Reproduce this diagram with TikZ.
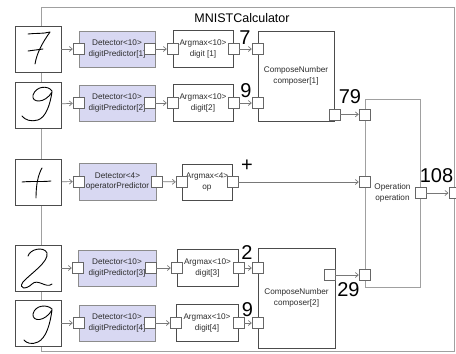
\documentclass[tikz,border=0pt]{standalone}
\usepackage{fontspec}
\setmainfont{Liberation Sans}
\usepackage{xcolor}
\usetikzlibrary{arrows.meta,positioning}
\definecolor{lavender}{RGB}{216,216,242}
\definecolor{wiregray}{RGB}{120,120,120}
\definecolor{framegray}{RGB}{160,160,160}
\definecolor{textgray}{RGB}{45,45,45}
\tikzstyle{box} = [rectangle, draw, inner sep=0pt, align=center, text=textgray, font=\fontsize{8.2}{10.5}\selectfont]
\tikzstyle{detector} = [box, draw=black!45, fill=lavender, minimum width=76, minimum height=36]
\tikzstyle{argmax} = [box, draw=black!70, fill=white, minimum width=60, minimum height=37]
\tikzstyle{composer} = [box, draw=black!70, fill=white, minimum width=76]
\tikzstyle{operation} = [box, draw=framegray, fill=white, minimum width=55, minimum height=188]
\tikzstyle{container} = [rectangle, draw=framegray, minimum width=413, minimum height=344]
\tikzstyle{port} = [rectangle, draw=black!60, fill=white, minimum size=11, inner sep=0pt]
\tikzstyle{digit} = [rectangle, draw=black!70, fill=white, minimum size=46, line width=0.8pt]
\tikzstyle{numlabel} = [inner sep=0pt, font=\fontsize{20}{24}\selectfont]
\tikzstyle{ink} = [-, black, line width=0.9pt, line cap=round, line join=round]

\begin{document}
\begin{tikzpicture}[x=1pt,y=-1pt,->,>={Straight Barb[length=3pt,width=5pt]},draw=wiregray,line width=0.7pt]
  \useasboundingbox (0,0) rectangle (456,354);
  \node[container] (calc) at (247.5,179) {};
  \node[inner sep=0pt, font=\fontsize{12.5}{15}\selectfont] (calc_title) at (242,18) {MNISTCalculator};

  % handwritten inputs
  \node[digit] (img1) at (38,49) {};
  \node[digit] (img2) at (38,105) {};
  \node[digit] (img3) at (38.5,182) {};
  \node[digit] (img4) at (38,268) {};
  \node[digit] (img5) at (38,323) {};
  \draw[ink] (28,34) .. controls (35,33) and (43,34) .. (50,32)
             .. controls (43,42) and (37,52) .. (35,64);
  \draw[ink] (28,51) -- (43,49);
  \draw[ink] (52,91) .. controls (48,85) and (36,86) .. (33,95)
             .. controls (31,103) and (45,104) .. (52,92)
             .. controls (50,105) and (46,117) .. (38,120)
             .. controls (31,122) and (25,120) .. (22,116);
  \draw[ink] (22,182) .. controls (32,181) and (42,182) .. (51,181);
  \draw[ink] (42,168) .. controls (38,175) and (36,185) .. (36,198);
  \draw[ink] (28,256) .. controls (30,249) and (44,246) .. (47,253)
             .. controls (49,262) and (30,274) .. (23,282)
             .. controls (18,289) and (26,290) .. (32,284)
             .. controls (38,278) and (46,289) .. (52,284);
  \draw[ink] (52,309) .. controls (47,304) and (35,305) .. (33,314)
             .. controls (32,322) and (45,322) .. (52,310)
             .. controls (50,325) and (46,338) .. (38,342)
             .. controls (32,345) and (26,343) .. (24,340);

  % predictors
  \node[detector] (det1) at (117,49) {Detector<10>\\digitPredictor[1]};
  \node[detector] (det2) at (117,103) {Detector<10>\\digitPredictor[2]};
  \node[detector, minimum width=77, minimum height=37] (det3) at (117.5,181.5) {Detector<4>\\operatorPredictor};
  \node[detector, minimum width=78] (det4) at (117,268) {Detector<10>\\digitPredictor[3]};
  \node[detector] (det5) at (117,323) {Detector<10>\\digitPredictor[4]};
  \foreach \i in {1,2,4,5} {
    \node[port, anchor=east] (det\i_out) at (det\i.east) {};
  }
  \node[port] (det3_out) at (det3.east) {};
  \foreach \i in {1,...,5} {
    \node[port] (det\i_in) at (det\i.west) {};
  }

  % argmax
  \node[argmax] (arg1) at (203,49) {Argmax<10>\\digit [1]};
  \node[argmax] (arg2) at (203,103) {Argmax<10>\\digit[2]};
  \node[argmax, minimum width=50, minimum height=36] (arg3) at (207,182) {Argmax<4>\\op};
  \node[argmax, minimum width=61] (arg4) at (207.5,268) {Argmax<10>\\digit[3]};
  \node[argmax, minimum width=62] (arg5) at (207,323) {Argmax<10>\\digit[4]};
  \foreach \i in {1,...,5} {
    \node[port] (arg\i_in) at (arg\i.west) {};
    \node[port] (arg\i_out) at (arg\i.east) {};
  }

  % composers and operation
  \node[composer, minimum height=90] (comp1) at (296,76) {ComposeNumber\\composer[1]};
  \node[composer, minimum width=77, minimum height=100] (comp2) at (296.5,298) {ComposeNumber\\composer[2]};
  \node[port] (comp1_in1) at (comp1.west |- arg1_out) {};
  \node[port] (comp1_in2) at (comp1.west |- arg2_out) {};
  \node[port] (comp1_out) at ([yshift=7]comp1.south east) {};
  \node[port] (comp2_in1) at (comp2.west |- arg4_out) {};
  \node[port] (comp2_in2) at (comp2.west |- arg5_out) {};
  \node[port, anchor=east] (comp2_out) at ([yshift=23]comp2.east) {};
  \node[operation] (op) at (392.5,193) {Operation\\operation};
  \node[port] (op_in1) at (op.west |- comp1_out) {};
  \node[port] (op_in2) at (op.west |- arg3_out) {};
  \node[port] (op_in3) at (op.west |- comp2_out) {};
  \node[port] (op_out) at (op.east) {};
  \node[port] (calc_out) at (calc.east |- op_out) {};

  % values
  \node[numlabel] (val1) at (245,38) {7};
  \node[numlabel] (val2) at (246,91) {9};
  \node[numlabel] (val3) at (247,166) {+};
  \node[numlabel] (val4) at (247,253) {2};
  \node[numlabel] (val5) at (247.5,310) {9};
  \node[numlabel] (val6) at (350,97) {79};
  \node[numlabel] (val7) at (348.5,290) {29};
  \node[numlabel] (val8) at (436.5,176) {108};

  \foreach \i in {1,...,5} {
    \path (img\i) edge (det\i_in);
    \path (det\i_out) edge (arg\i_in);
  }
  \path (arg1_out) edge (comp1_in1);
  \path (arg2_out) edge (comp1_in2);
  \path (arg3_out) edge (op_in2);
  \path (arg4_out) edge (comp2_in1);
  \path (arg5_out) edge (comp2_in2);
  \path (comp1_out) edge (op_in1);
  \path (comp2_out) edge (op_in3);
  \path (op_out) edge (calc_out);
\end{tikzpicture}
\end{document}
